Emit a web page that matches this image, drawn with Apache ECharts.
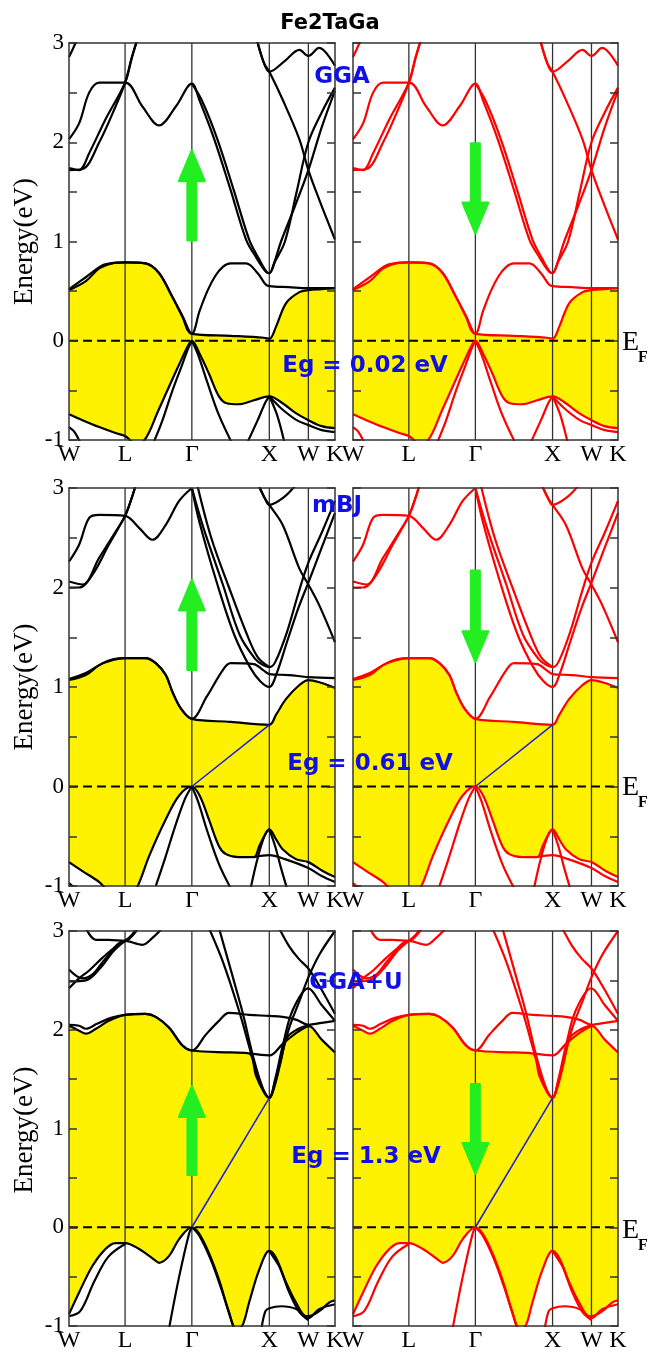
<!DOCTYPE html>
<html><head><meta charset="utf-8">
<script src="https://cdn.jsdelivr.net/npm/echarts@6/dist/echarts.min.js"></script>
<style>html,body{margin:0;padding:0;background:#fff}#c{width:651px;height:1353px}</style>
</head><body><div id="c"></div>
<script>
// k-path: positions of high-symmetry points (path-length units) and labels
const KPOS = [0, 0.7223, 1.5825, 2.5806, 3.0837, 3.4267];
const KLAB = ['W', 'L', 'Γ', 'X', 'W', 'K'];
// band points are [p, E] where p = segment index + fraction along the segment (0=W,1=L,2=Γ,3=X,4=W,5=K)

// ---------- GGA ----------
const ggaVB1 = [[0,0.51],[0.3,0.6],[0.54,0.73],[0.77,0.78],[1,0.79],[1.31,0.78],[1.51,0.68],[1.71,0.44],[1.86,0.24],[2,0.07],[2.5,0.05],[2.93,0.03],[3,0.02],[3.17,0.14],[3.43,0.38],[3.77,0.49],[4,0.51],[4.5,0.52],[5,0.53]];
const ggaVB2 = [[0,-0.74],[0.24,-0.8],[0.54,-0.87],[0.83,-0.93],[1,-0.96],[1.15,-1.03],[1.28,-1.01],[1.5,-0.7],[1.7,-0.4],[1.85,-0.18],[1.95,-0.04],[2,0],[2.1,-0.13],[2.22,-0.33],[2.35,-0.56],[2.45,-0.63],[2.6,-0.64],[2.8,-0.6],[3,-0.56],[3.34,-0.63],[3.68,-0.73],[4,-0.8],[4.5,-0.86],[5,-0.88]];
const ggaOther = [
  [[0,0.52],[0.3,0.64],[0.6,0.76],[0.8,0.785],[1,0.79],[1.3,0.78],[1.5,0.69],[1.7,0.45],[1.86,0.25],[2,0.07],[2.1,0.3],[2.2,0.5],[2.3,0.65],[2.4,0.745],[2.5,0.78],[2.7,0.78],[2.85,0.68],[2.95,0.57],[3,0.55],[3.5,0.54],[4,0.53],[5,0.53]],
  [[0,-0.87],[0.1,-0.92],[0.22,-1.05]],
  [[1.43,-1.02],[1.55,-0.82],[1.7,-0.52],[1.85,-0.25],[1.95,-0.07],[2,0]],
  [[2,0],[2.08,-0.14],[2.2,-0.42],[2.35,-0.75],[2.53,-1.05]],
  [[2.72,-1.02],[2.85,-0.8],[2.95,-0.62],[3,-0.56]],
  [[3,-0.56],[3.2,-0.75],[3.39,-1.03]],
  [[3,-0.56],[3.3,-0.68],[3.7,-0.8],[4,-0.85],[4.5,-0.9],[5,-0.92]],
  [[0,2.03],[0.18,2.19],[0.36,2.5],[0.54,2.6],[1,2.6],[1.26,2.36],[1.51,2.17],[1.76,2.36],[2,2.59],[2.1,2.42],[2.29,2.03],[2.5,1.52],[2.7,1.02],[2.83,0.84],[2.95,0.7],[3,0.68],[3.15,0.8],[3.4,1.0],[3.7,1.5],[4,2.0],[4.5,2.3],[5,2.55]],
  [[2,2.59],[2.13,2.42],[2.33,2.03],[2.54,1.52],[2.74,1.02],[2.87,0.82],[2.96,0.7],[3,0.68],[3.12,0.78],[3.3,1.0],[3.65,1.35],[4,1.72],[4.5,2.15],[5,2.52]],
  [[0,1.74],[0.18,1.72],[0.36,1.89],[0.65,2.23],[1,2.6],[1.1,2.85],[1.19,3.05]],
  [[0,1.72],[0.24,1.73],[0.54,2.0],[0.83,2.36],[1,2.6],[1.1,2.85],[1.19,3.05]],
  [[0,2.86],[0.06,2.93],[0.14,3.03]],
  [[2.84,3.03],[2.93,2.8],[3,2.71],[3.4,2.82],[3.77,2.93],[4,2.87],[4.4,2.95],[5,2.77]],
  [[2.84,3.03],[2.93,2.8],[3,2.71],[3.34,2.43],[3.77,2.03],[4,1.72],[4.41,1.42],[5,1.02]]
];

// ---------- mBJ ----------
const mbjVB1 = [[0,1.07],[0.3,1.12],[0.54,1.22],[0.77,1.27],[1,1.29],[1.31,1.29],[1.46,1.24],[1.61,1.12],[1.71,0.95],[1.84,0.78],[2,0.68],[2.5,0.65],[3,0.62],[3.17,0.72],[3.43,0.88],[3.77,1.02],[4,1.07],[4.5,1.04],[5,0.99]];
const mbjVB2 = [[0,-0.76],[0.24,-0.85],[0.54,-0.96],[0.65,-1.02],[0.9,-1.1],[1.1,-1.06],[1.19,-1.0],[1.36,-0.7],[1.61,-0.33],[1.81,-0.09],[2,0],[2.1,-0.09],[2.22,-0.33],[2.35,-0.6],[2.44,-0.68],[2.6,-0.71],[2.8,-0.71],[2.87,-0.6],[2.94,-0.49],[3,-0.43],[3.17,-0.53],[3.34,-0.63],[3.68,-0.73],[4,-0.76],[4.54,-0.85],[5,-0.91]];
const mbjOther = [
  [[0,1.08],[0.3,1.14],[0.6,1.24],[0.8,1.28],[1,1.29],[1.3,1.29],[1.46,1.24],[1.61,1.12],[1.71,0.95],[1.84,0.78],[2,0.68],[2.19,0.9],[2.4,1.17],[2.5,1.24],[2.8,1.23],[2.92,1.17],[3,1.13],[3.5,1.12],[4,1.1],[5,1.09]],
  [[2.8,-0.71],[3,-0.69],[3.4,-0.73],[4,-0.82],[4.5,-0.9],[5,-0.96]],
  [[2.76,-1.02],[2.83,-0.78],[2.9,-0.58],[2.96,-0.46],[3,-0.43]],
  [[2,0],[2.08,-0.15],[2.2,-0.45],[2.35,-0.78],[2.5,-1.02]],
  [[1.46,-1.0],[1.6,-0.72],[1.75,-0.4],[1.9,-0.12],[2,0]],
  [[0,-0.97],[0.12,-1.03]],
  [[3,-0.43],[3.15,-0.6],[3.3,-0.82],[3.45,-1.02]],
  [[0,2.26],[0.18,2.43],[0.36,2.7],[0.54,2.73],[1,2.72],[1.21,2.6],[1.41,2.48],[1.61,2.63],[1.81,2.87],[2,3.0]],
  [[0,2.06],[0.24,2.03],[0.54,2.3],[0.83,2.56],[1,2.72],[1.1,2.9],[1.16,3.03]],
  [[0,2.0],[0.18,2.0],[0.42,2.13],[0.71,2.43],[1,2.72],[1.1,2.9],[1.16,3.03]],
  [[2,3.0],[2.1,2.65],[2.33,2.03],[2.55,1.52],[2.75,1.2],[2.88,1.06],[3,1.0],[3.2,1.15],[3.45,1.45],[3.75,1.8],[4,2.05],[4.5,2.4],[5,2.75]],
  [[2,3.0],[2.15,2.6],[2.4,2.03],[2.62,1.52],[2.82,1.28],[2.92,1.22],[3,1.2],[3.15,1.25],[3.45,1.55],[3.75,1.95],[4,2.25],[4.5,2.55],[5,2.87]],
  [[2.07,3.03],[2.25,2.5],[2.48,2.0],[2.7,1.55],[2.85,1.3],[3,1.2]],
  [[2.86,3.03],[2.94,2.9],[3,2.83],[3.35,2.9],[3.68,3.03]],
  [[2.86,3.03],[2.94,2.9],[3,2.83],[3.34,2.63],[3.77,2.19],[4,2.03],[4.41,1.82],[5,1.45]]
];

// ---------- GGA+U ----------
const ggauVB1 = [[0,2.04],[0.18,1.99],[0.3,1.96],[0.48,2.01],[0.71,2.09],[1,2.15],[1.31,2.16],[1.46,2.13],[1.66,2.02],[1.86,1.84],[2,1.79],[2.5,1.77],[2.74,1.76],[2.83,1.53],[2.93,1.37],[3,1.31],[3.15,1.45],[3.3,1.69],[3.45,1.92],[3.7,2.0],[4,2.04],[4.5,1.9],[5,1.77]];
const ggauVB2 = [[0,-0.88],[0.18,-0.66],[0.42,-0.39],[0.65,-0.22],[0.83,-0.16],[1,-0.16],[1.21,-0.22],[1.46,-0.34],[1.51,-0.36],[1.66,-0.29],[1.81,-0.12],[2,0],[2.09,-0.06],[2.22,-0.26],[2.35,-0.53],[2.48,-0.86],[2.57,-1.03],[2.65,-1.0],[2.74,-0.76],[2.87,-0.43],[3,-0.24],[3.17,-0.31],[3.43,-0.56],[3.68,-0.76],[3.94,-0.9],[4,-0.9],[4.41,-0.85],[4.79,-0.76],[5,-0.74]];
const ggauOther = [
  [[2.74,1.76],[3,1.74],[3.35,1.86],[3.7,1.97],[4,2.04]],
  [[0,2.05],[0.18,2.04],[0.3,2.01],[0.5,2.06],[0.75,2.12],[1,2.15],[1.3,2.16],[1.46,2.13],[1.66,2.02],[1.86,1.84],[2,1.79],[2.18,1.95],[2.35,2.09],[2.48,2.17],[2.74,2.15],[3,2.14],[3.34,2.13],[3.7,2.1],[4,2.05],[4.5,2.07],[5,2.09]],
  [[2.22,3.03],[2.4,2.69],[2.61,2.19],[2.78,1.72],[2.9,1.42],[3,1.31],[3.13,1.45],[3.26,1.65],[3.51,2.02],[3.77,2.29],[4,2.53],[4.41,2.76],[5,3.0]],
  [[2.35,3.03],[2.53,2.53],[2.66,2.16],[2.8,1.7],[2.92,1.4],[3,1.31],[3.15,1.5],[3.35,1.85],[3.6,2.2],[4,2.42],[4.5,2.25],[5,2.09]],
  [[3.25,3.03],[3.5,2.85],[3.75,2.72],[4,2.62],[4.4,2.45],[5,2.16]],
  [[0,2.61],[0.24,2.52],[0.42,2.56],[0.65,2.72],[1,2.9],[1.26,2.86],[1.41,2.93],[1.56,3.03]],
  [[0,2.42],[0.18,2.52],[0.36,2.6],[0.6,2.73],[0.85,2.85],[1,2.9],[1.1,2.96],[1.18,3.03]],
  [[0,2.49],[0.3,2.5],[0.55,2.62],[0.8,2.8],[1,2.9]],
  [[0.3,3.03],[0.48,2.91],[0.71,2.91],[1,2.9],[1.12,2.96],[1.2,3.03]],
  [[0,-0.9],[0.2,-0.85],[0.45,-0.55],[0.7,-0.3],[1,-0.17]],
  [[1.66,-1.02],[1.81,-0.5],[1.96,-0.06],[2,0]],
  [[2,0],[2.1,-0.09],[2.24,-0.32],[2.37,-0.6],[2.5,-0.92],[2.55,-1.03]],
  [[3,-0.24],[3.1,-0.3],[3.26,-0.4],[3.51,-0.66],[3.77,-0.86],[4,-0.94]],
  [[2.9,-1.02],[2.95,-0.85],[3,-0.82],[3.3,-0.8],[3.7,-0.83],[4,-0.92],[4.4,-0.83],[5,-0.78]]
];

// gap lines (VBM at Γ -> CBM at X)
const mbjGap = [[2,0],[3,0.62]];
const ggauGap = [[2,0],[3,1.31]];
// spin arrows: [p, E start, E tip]
const ggaArrows = [[2,1.01,1.92],[2,1.99,1.08]];
const mbjArrows = [[2,1.17,2.08],[2,2.17,1.25]];
const ggauArrows = [[2,0.53,1.43],[2,1.45,0.54]];
const methodNames = ['GGA','mBJ','GGA+U'];
const gapTexts = ['Eg = 0.02 eV','Eg = 0.61 eV','Eg = 1.3 eV'];

function toK(p){const i=Math.min(Math.floor(p),4);return KPOS[i]+(p-i)*(KPOS[i+1]-KPOS[i]);}
function conv(a){return a.map(d=>[toK(d[0]),d[1]]);}

const methods = [
  {vb1:ggaVB1,vb2:ggaVB2,other:ggaOther,gap:null,arrows:ggaArrows},
  {vb1:mbjVB1,vb2:mbjVB2,other:mbjOther,gap:mbjGap,arrows:mbjArrows},
  {vb1:ggauVB1,vb2:ggauVB2,other:ggauOther,gap:ggauGap,arrows:ggauArrows}
];
const rows=[{top:43,h:397},{top:488,h:398},{top:931,h:398}];
const cols=[{left:69,w:266},{left:353,w:265}];
const bandColors=['#000000','#ff0000'];
const frame={show:true,onZero:false,lineStyle:{color:'#333',width:1.5}};

function arrowRender(params, api){
  const b=api.coord([api.value(0),api.value(1)]);
  const t=api.coord([api.value(0),api.value(2)]);
  const dir=t[1]<b[1]?-1:1;
  const sw=4.5, hw=13, hl=31, cx=b[0];
  const neck=t[1]-dir*hl;
  return {type:'polygon',shape:{points:[[cx-sw,b[1]],[cx-sw,neck],[cx-hw,neck],[cx,t[1]],[cx+hw,neck],[cx+sw,neck],[cx+sw,b[1]]]},
    style:{fill:'#22ee22',stroke:'#22ee22',lineWidth:2,lineJoin:'round'}};
}

const grids=[],xAxes=[],yAxes=[],series=[];
rows.forEach((r,ri)=>cols.forEach((c,ci)=>{
  const gi=ri*2+ci, m=methods[ri], col=bandColors[ci];
  grids.push({left:c.left,top:r.top,width:c.w,height:r.h});
  xAxes.push({gridIndex:gi,type:'value',min:0,max:KPOS[5],position:'bottom',z:10,axisLine:frame,axisTick:{show:false},splitLine:{show:false},
    axisLabel:{customValues:KPOS,margin:3,color:'#000',fontFamily:'Liberation Serif',fontSize:24,
      formatter:v=>{const i=KPOS.findIndex(t=>Math.abs(t-v)<1e-6);return i>=0?KLAB[i]:'';}}});
  xAxes.push({gridIndex:gi,type:'value',min:0,max:KPOS[5],position:'top',z:10,axisLine:frame,axisTick:{show:false},axisLabel:{show:false},splitLine:{show:false}});
  yAxes.push({gridIndex:gi,type:'value',min:-1,max:3,interval:0.5,position:'left',z:10,axisLine:frame,
    axisTick:{inside:true,length:8,lineStyle:{color:'#333',width:1.5}},splitLine:{show:false},
    axisLabel:{show:ci===0,margin:5,color:'#000',fontFamily:'Liberation Serif',fontSize:23,formatter:v=>Number.isInteger(v)?String(v):''}});
  yAxes.push({gridIndex:gi,type:'value',min:-1,max:3,interval:0.5,position:'right',z:10,axisLine:frame,
    axisTick:{inside:true,length:8,lineStyle:{color:'#333',width:1.5}},splitLine:{show:false},axisLabel:{show:false}});
  const base={type:'line',xAxisIndex:gi*2,yAxisIndex:gi*2,showSymbol:false,symbol:'none',silent:true,animation:false};
  series.push({...base,z:1,smooth:0.35,data:conv(m.vb1),lineStyle:{width:0,opacity:0},areaStyle:{color:'#fff200',opacity:1,origin:'start'}});
  series.push({...base,z:2,smooth:0.35,data:conv(m.vb2),lineStyle:{width:0,opacity:0},areaStyle:{color:'#ffffff',opacity:1,origin:'start'}});
  KPOS.slice(1,5).forEach(k=>series.push({...base,z:3,data:[[k,-1],[k,3]],lineStyle:{color:'#333',width:1.3}}));
  series.push({...base,z:3,data:[[KPOS[0],0],[KPOS[5],0]],lineStyle:{color:'#000',width:2,type:[9,5]}});
  [m.vb1,m.vb2,...m.other].forEach(b=>series.push({...base,z:4,smooth:0.35,data:conv(b),lineStyle:{color:col,width:2.2}}));
  if(m.gap) series.push({...base,z:5,data:conv(m.gap),lineStyle:{color:'#1a1ae6',width:1.5}});
  const a=m.arrows[ci];
  series.push({type:'custom',xAxisIndex:gi*2,yAxisIndex:gi*2,z:6,silent:true,animation:false,
    encode:{x:0,y:[1,2]},data:[[toK(a[0]),a[1],a[2]]],renderItem:arrowRender});
}));

const blue='#0f0fe8';
const graphic=[
  {type:'text',x:330,y:24,style:{text:'Fe2TaGa',font:'bold 21px "DejaVu Sans"',fill:'#000',textAlign:'center',textVerticalAlign:'middle'}},
];
const efY=[340.7,786,1229];
const labelPos=[{m:[342,77],g:[365,366]},{m:[337,506],g:[370,764]},{m:[356,983],g:[366,1157]}];
rows.forEach((r,ri)=>{
  graphic.push({type:'text',x:25,y:r.top+r.h/2,rotation:Math.PI/2,style:{text:'Energy(eV)',font:'27px "Liberation Serif"',fill:'#000',textAlign:'center',textVerticalAlign:'middle'}});
  graphic.push({type:'text',x:622,y:efY[ri]+2,style:{text:'E',font:'28px "Liberation Serif"',fill:'#000',textAlign:'left',textVerticalAlign:'middle'}});
  graphic.push({type:'text',x:638,y:efY[ri]+17,style:{text:'F',font:'bold 16px "Liberation Serif"',fill:'#000',textAlign:'left',textVerticalAlign:'middle'}});
  graphic.push({type:'text',x:labelPos[ri].m[0],y:labelPos[ri].m[1],z:100,style:{text:methodNames[ri],font:'bold 23px "DejaVu Sans"',fill:blue,textAlign:'center',textVerticalAlign:'middle'}});
  graphic.push({type:'text',x:labelPos[ri].g[0],y:labelPos[ri].g[1],z:100,style:{text:gapTexts[ri],font:'bold 23px "DejaVu Sans"',fill:blue,textAlign:'center',textVerticalAlign:'middle'}});
});

const chart=echarts.init(document.getElementById('c'));
chart.setOption({animation:false,backgroundColor:'#fff',grid:grids,xAxis:xAxes,yAxis:yAxes,series:series,graphic:graphic});
</script></body></html>
